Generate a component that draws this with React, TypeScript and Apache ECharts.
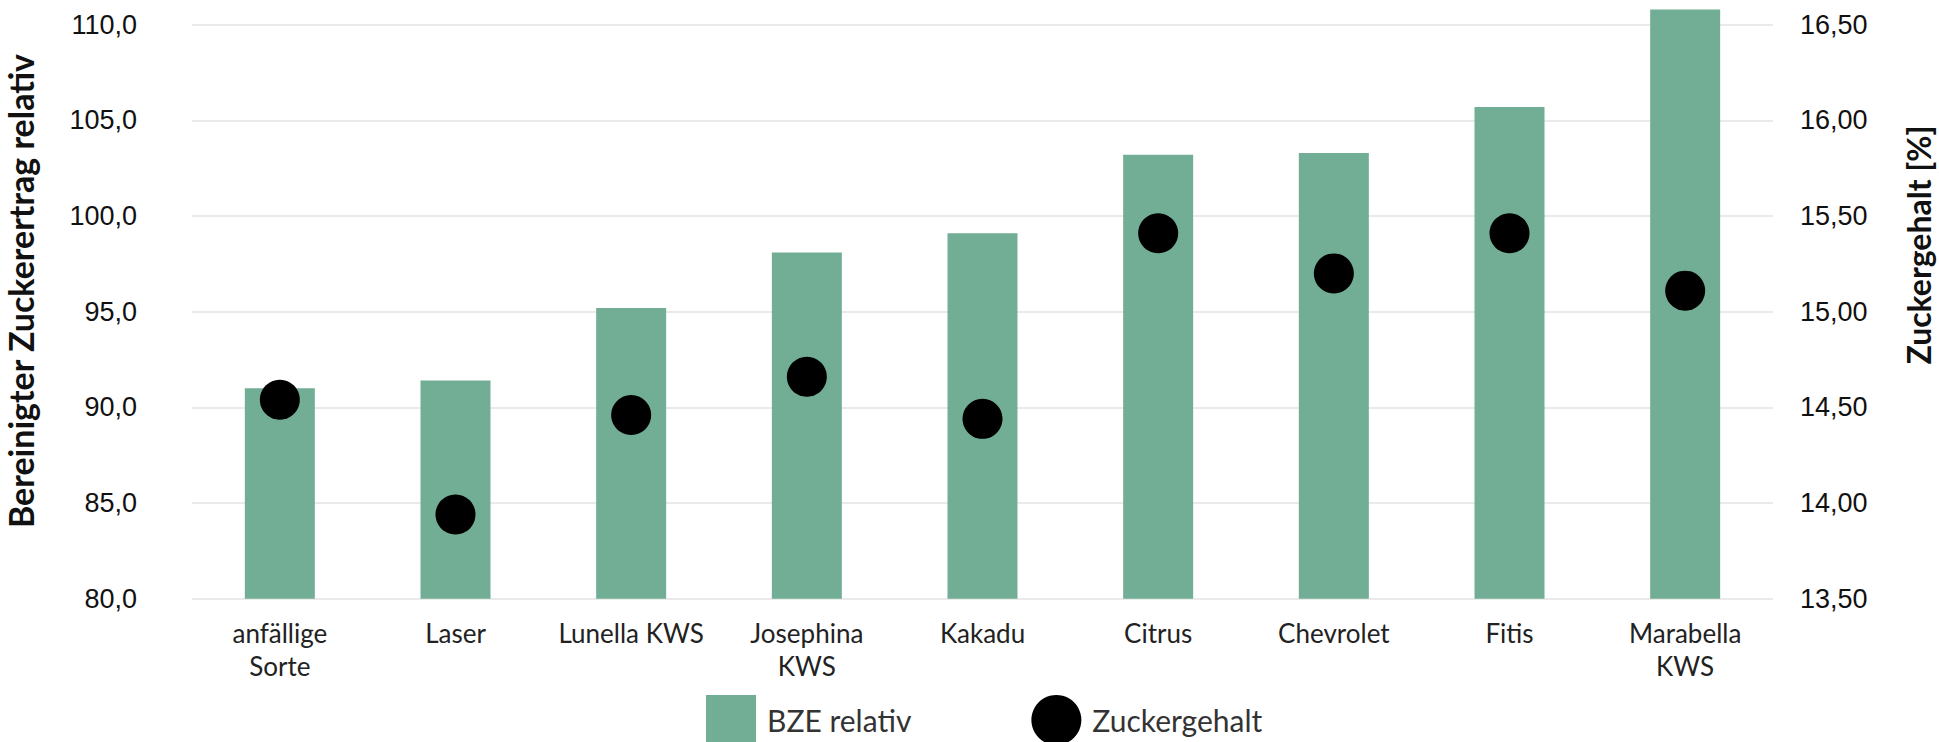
import React, { useEffect, useRef } from "react";
import * as echarts from "echarts";

const categories = [
  "anfällige\nSorte",
  "Laser",
  "Lunella KWS",
  "Josephina\nKWS",
  "Kakadu",
  "Citrus",
  "Chevrolet",
  "Fitis",
  "Marabella\nKWS",
];
const bzeRelativ = [91.0, 91.4, 95.2, 98.1, 99.1, 103.2, 103.3, 105.7, 110.8];
const zuckergehalt = [14.54, 13.94, 14.46, 14.66, 14.44, 15.41, 15.2, 15.41, 15.11];

// visible tick range; the axis extends one unit above the top tick so the tallest bar fits
const leftAxis = { min: 80, max: 111, interval: 5 };
const rightAxis = { min: 13.5, max: 16.6, interval: 0.5 };

const seriesNames = ["BZE relativ", "Zuckergehalt"];
const leftTitle = "Bereinigter Zuckerertrag relativ";
const rightTitle = "Zuckergehalt [%]";

export default function App() {
  const ref = useRef<HTMLDivElement>(null);
  useEffect(() => {
    if (!ref.current) return;
    const chart = echarts.init(ref.current, null, { renderer: "svg" });
    const tickFont = { fontFamily: "Liberation Sans", fontSize: 27, color: "#111" };
    chart.setOption({
      animation: false,
      backgroundColor: "#fff",
      grid: { left: 192, right: 166, top: 5.57, bottom: 143.3, containLabel: false },
      legend: {
        left: 701,
        top: 690,
        itemWidth: 50,
        itemHeight: 50,
        itemGap: 120,
        textStyle: {
          fontFamily: "Lato",
          fontSize: 30,
          color: "#333",
          padding: [0, 0, 0, 6],
        },
        data: [
          { name: seriesNames[0], icon: "rect" },
          { name: seriesNames[1], icon: "circle" },
        ],
      },
      xAxis: {
        type: "category",
        data: categories,
        axisLine: { show: false },
        axisTick: { show: false },
        axisLabel: {
          margin: 18,
          fontFamily: "Lato",
          fontSize: 26,
          lineHeight: 33,
          color: "#222",
          interval: 0,
        },
      },
      yAxis: [
        {
          type: "value",
          min: leftAxis.min,
          max: leftAxis.max,
          interval: leftAxis.interval,
          axisLine: { show: false },
          axisTick: { show: false },
          splitLine: {
            show: true,
            showMaxLine: false,
            lineStyle: { color: "#e3e3e3", width: 1.5 },
          },
          axisLabel: {
            ...tickFont,
            margin: 55,
            showMaxLabel: false,
            formatter: (v: number) => v.toFixed(1).replace(".", ","),
          },
        },
        {
          type: "value",
          min: rightAxis.min,
          max: rightAxis.max,
          interval: rightAxis.interval,
          axisLine: { show: false },
          axisTick: { show: false },
          splitLine: { show: false },
          axisLabel: {
            ...tickFont,
            margin: 27,
            showMaxLabel: false,
            formatter: (v: number) => v.toFixed(2).replace(".", ","),
          },
        },
      ],
      series: [
        {
          name: seriesNames[0],
          type: "bar",
          yAxisIndex: 0,
          data: bzeRelativ,
          barWidth: 70,
          itemStyle: { color: "#72ad95" },
          z: 2,
        },
        {
          name: seriesNames[1],
          type: "scatter",
          yAxisIndex: 1,
          data: zuckergehalt,
          symbol: "circle",
          symbolSize: 40,
          itemStyle: { color: "#000", opacity: 1 },
          z: 3,
        },
      ],
      graphic: [
        {
          type: "text",
          x: 20,
          y: 291,
          rotation: Math.PI / 2,
          style: {
            text: leftTitle,
            fontFamily: "Lato",
            fontWeight: "bold",
            fontSize: 34,
            fill: "#111",
            align: "center",
            verticalAlign: "middle",
          },
        },
        {
          type: "text",
          x: 1918,
          y: 245,
          rotation: Math.PI / 2,
          style: {
            text: rightTitle,
            fontFamily: "Lato",
            fontWeight: "bold",
            fontSize: 32,
            fill: "#111",
            align: "center",
            verticalAlign: "middle",
          },
        },
      ],
    });
    return () => chart.dispose();
  }, []);
  return (
    <div
      ref={ref}
      style={{ position: "absolute", left: 0, top: 0, width: 1939, height: 742 }}
    />
  );
}
